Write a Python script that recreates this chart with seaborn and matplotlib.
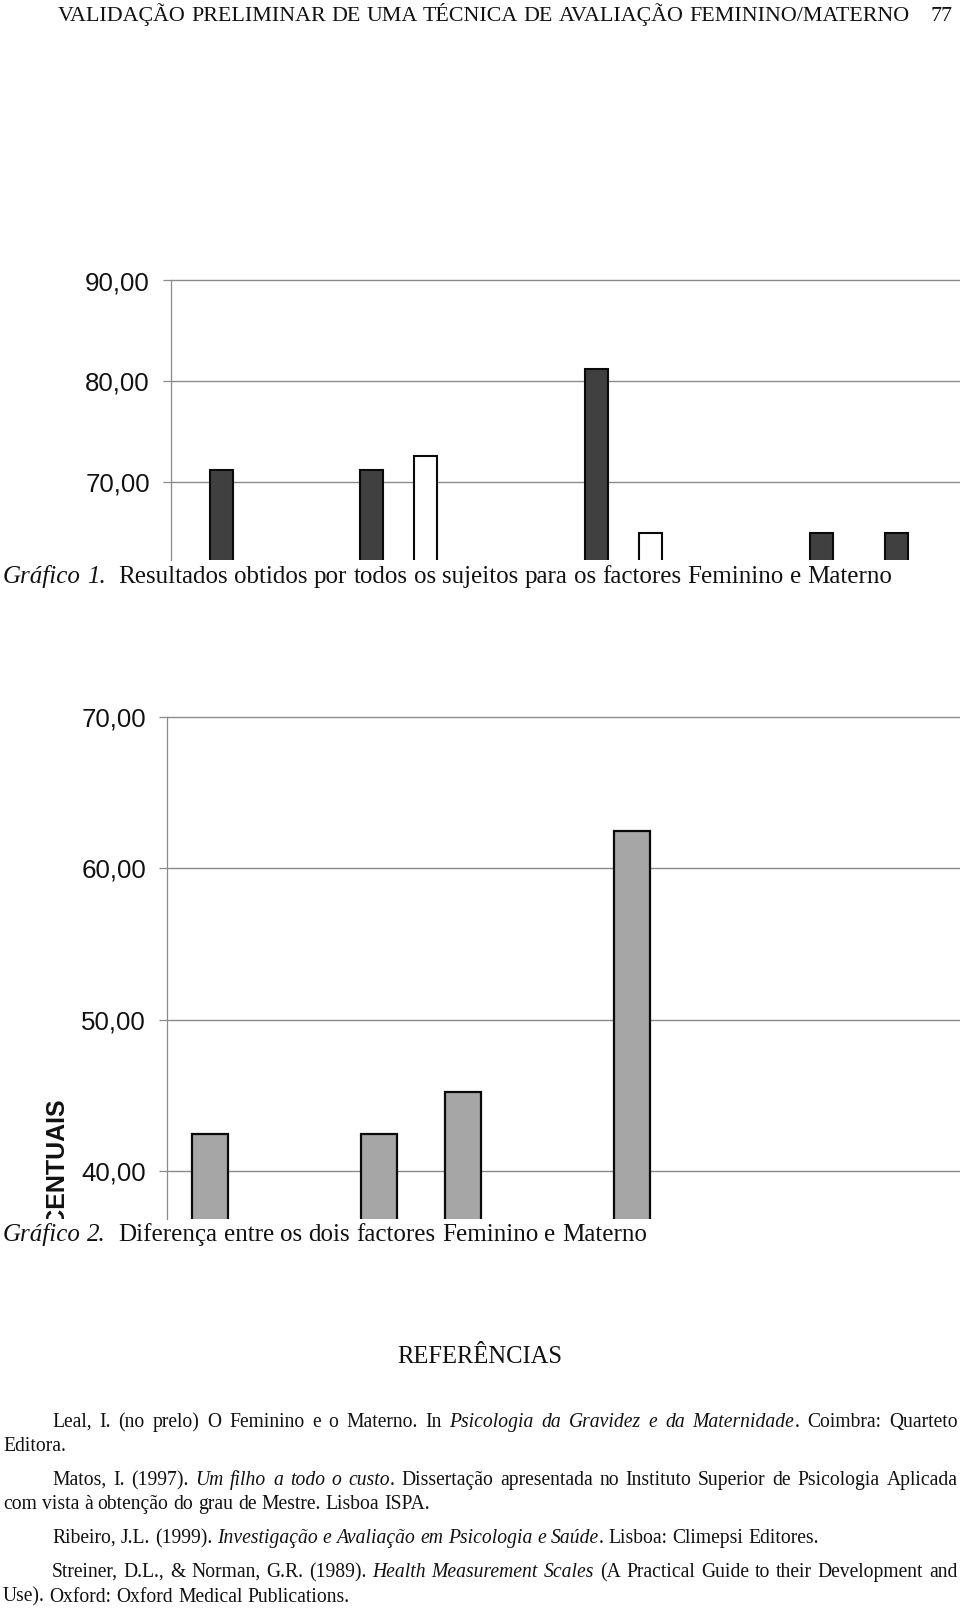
import numpy as np
import pandas as pd
import seaborn as sns
import matplotlib
matplotlib.use("Agg")
import matplotlib.pyplot as plt
from matplotlib.transforms import Bbox, TransformedBbox

# ---------------- data ----------------
# Gráfico 1 (only the upper part of the chart is visible; hidden values left empty)
subjects1 = [str(i) for i in range(1, 11)]
factors = ["Feminino", "Materno"]
feminino1 = [71.2, np.nan, 71.2, np.nan, np.nan, 81.2, np.nan, np.nan, 65.0, 65.0]
materno1 = [np.nan, np.nan, 72.6, np.nan, np.nan, 65.0, np.nan, np.nan, np.nan, np.nan]
yticks1 = [70, 80, 90]

# Gráfico 2
subjects2 = [str(i) for i in range(1, 10)]
diferenca2 = [42.4, np.nan, 42.4, 45.2, np.nan, 62.5, np.nan, np.nan, np.nan]
yticks2 = [40, 50, 60, 70]
ylabel2 = "PERCENTUAIS"

header_text = "VALIDAÇÃO PRELIMINAR DE UMA TÉCNICA DE AVALIAÇÃO FEMININO/MATERNO"
page_number = "77"
caption1 = [("Gráfico 1.", "italic"), ("  Resultados obtidos por todos os sujeitos para os factores Feminino e Materno", "normal")]
caption2 = [("Gráfico 2.", "italic"), ("  Diferença entre os dois factores Feminino e Materno", "normal")]
refs_title = "REFERÊNCIAS"
ref_lines = [
    [("Leal, I. (no prelo) O Feminino e o Materno. In ", "normal"), ("Psicologia da Gravidez e da Maternidade", "italic"), (". Coimbra: Quarteto", "normal")],
    [("Editora.", "normal")],
    [("Matos, I. (1997). ", "normal"), ("Um filho a todo o custo", "italic"), (". Dissertação apresentada no Instituto Superior de Psicologia Aplicada", "normal")],
    [("com vista à obtenção do grau de Mestre. Lisboa ISPA.", "normal")],
    [("Ribeiro, J.L. (1999). ", "normal"), ("Investigação e Avaliação em Psicologia e Saúde", "italic"), (". Lisboa: Climepsi Editores.", "normal")],
    [("Streiner, D.L., & Norman, G.R. (1989). ", "normal"), ("Health Measurement Scales", "italic"), (" (A Practical Guide to their Development and", "normal")],
    [("Use). Oxford: Oxford Medical Publications.", "normal")],
]
ref_indent = [True, False, True, False, True, True, False]
ref_justify = [True, False, True, False, False, True, False]
ref_baselines = [1427, 1451, 1485, 1509, 1543, 1577, 1601.5]

# ---------------- figure ----------------
W, H, DPI = 960, 1610, 100
sns.set_theme(style="white")
plt.rcParams["font.family"] = ["Liberation Sans", "DejaVu Sans"]
SERIF = ["Liberation Serif", "DejaVu Serif"]
fig = plt.figure(figsize=(W / DPI, H / DPI), dpi=DPI)
fig.patch.set_facecolor("white")
renderer = fig.canvas.get_renderer()

GRID = "#8a8a8a"


def px_axes(left, top, right, bottom):
    return fig.add_axes([left / W, 1 - bottom / H, (right - left) / W, (bottom - top) / H])


def style_axis(ax, ticks, pad_px):
    ax.set_yticks(ticks, labels=[f"{v:.2f}".replace(".", ",") for v in ticks])
    ax.tick_params(axis="y", which="both", left=True, length=8 * 0.72, width=0.9, color=GRID,
                   pad=pad_px * 0.72, labelsize=18.6, labelcolor="#111111")
    ax.tick_params(axis="x", bottom=False, labelbottom=False)
    ax.set_xlabel("")
    ax.set_ylabel("")
    for s in ["top", "right", "bottom"]:
        ax.spines[s].set_visible(False)
    ax.spines["left"].set_color(GRID)
    ax.spines["left"].set_linewidth(0.9)
    ax.yaxis.grid(True, color=GRID, linewidth=1.0)
    for gl in ax.yaxis.get_gridlines():
        gl.set_clip_on(False)
    ax.xaxis.grid(False)
    ax.set_axisbelow(True)
    ax.set_facecolor("white")


# Chart 1
df1 = pd.DataFrame({
    "sujeito": subjects1 * 2,
    "factor": [factors[0]] * len(subjects1) + [factors[1]] * len(subjects1),
    "valor": feminino1 + materno1,
}).dropna()
ax1 = px_axes(171.3, 280.5, 960, 560)
sns.barplot(data=df1, x="sujeito", y="valor", hue="factor", order=subjects1, hue_order=factors,
            palette={"Feminino": "#404040", "Materno": "#ffffff"}, width=1.44, gap=0.57,
            edgecolor="#0a0a0a", linewidth=1.5, errorbar=None, legend=False, ax=ax1)
ax1.set_ylim(62.3, 90)
ax1.set_xlim(-1.027, 9.49)
style_axis(ax1, yticks1, 13.3)

# Chart 2
df2 = pd.DataFrame({"sujeito": subjects2, "valor": diferenca2}).dropna()
ax2 = px_axes(166.7, 717.1, 960, 1219.3)
sns.barplot(data=df2, x="sujeito", y="valor", order=subjects2, color="#a6a6a6", width=0.42,
            edgecolor="#0a0a0a", linewidth=1.6, errorbar=None, ax=ax2)
ax2.set_ylim(36.79, 70)
ax2.set_xlim(-0.513, 8.886)
style_axis(ax2, yticks2, 12.6)

yl = fig.text(56 / W, 1 - 1097 / H, ylabel2, rotation=90, ha="center", va="top",
              fontsize=18, fontweight="bold", color="#111111")
yl.set_clip_box(TransformedBbox(Bbox([[0, 1 - 1219.3 / H], [1, 1]]), fig.transFigure))
yl.set_clip_on(True)


# ---------------- text helpers ----------------
def tw(s, size, style="normal", family=SERIF):
    t = fig.text(0, 0, s, fontsize=size, fontstyle=style, family=family)
    w = t.get_window_extent(renderer).width
    t.remove()
    return w


def space_w(size, style):
    return tw("a a", size, style) - tw("aa", size, style)


def build_words(segs):
    words = []  # [pre_spaces, [(text, style), ...]]
    pending = 0
    new_word = True
    for text, style in segs:
        parts = text.split(" ")
        for j, p in enumerate(parts):
            if j > 0:
                new_word = True
                pending += 1
            if p == "":
                continue
            if new_word:
                words.append([pending, [(p, style)]])
                new_word = False
                pending = 0
            else:
                words[-1][1].append((p, style))
    return words


def line_natural_width(segs, size):
    words = build_words(segs)
    total = 0
    for i, (pre, runs) in enumerate(words):
        if i > 0:
            total += pre * space_w(size, runs[0][1])
        total += sum(tw(r, size, s) for r, s in runs)
    return total


def draw_line(segs, x0, yb, size, x1=None, color="#111111"):
    words = build_words(segs)
    widths = [[tw(r, size, s) for r, s in runs] for _, runs in words]
    wsum = [sum(w) for w in widths]
    if x1 is not None and len(words) > 1:
        gap = (x1 - x0 - sum(wsum)) / (len(words) - 1)
        gaps = [gap] * len(words)
    else:
        gaps = [pre * space_w(size, runs[0][1]) for pre, runs in words]
    x = x0
    for i, (pre, runs) in enumerate(words):
        if i > 0:
            x += gaps[i]
        xr = x
        for (r, s), w in zip(runs, widths[i]):
            fig.text(xr / W, 1 - yb / H, r, fontsize=size, fontstyle=s, family=SERIF,
                     ha="left", va="baseline", color=color)
            xr += w
        x += wsum[i]


# header
hsize = 10 * 850 / line_natural_width([(header_text, "normal")], 10)
draw_line([(header_text, "normal")], 58, 20.7, hsize)
fig.text(953 / W, 1 - 20.7 / H, page_number, fontsize=hsize, family=SERIF, ha="right",
         va="baseline", color="#111111")

# captions
csize = 10 * 888 / line_natural_width(caption1, 10)
draw_line(caption1, 3, 582.7, csize)
draw_line(caption2, 3, 1241, csize)

# references
rsize_title = 10 * 166 / tw(refs_title, 10)
fig.text(480 / W, 1 - 1363 / H, refs_title, fontsize=rsize_title, family=SERIF, ha="center",
         va="baseline", color="#111111")

rsize = 10 * 766 / line_natural_width(ref_lines[4], 10)
for segs, ind, just, yb in zip(ref_lines, ref_indent, ref_justify, ref_baselines):
    draw_line(segs, 52 if ind else 3, yb, rsize, 957.5 if just else None)

fig.savefig("out.png", dpi=DPI, facecolor="white")
